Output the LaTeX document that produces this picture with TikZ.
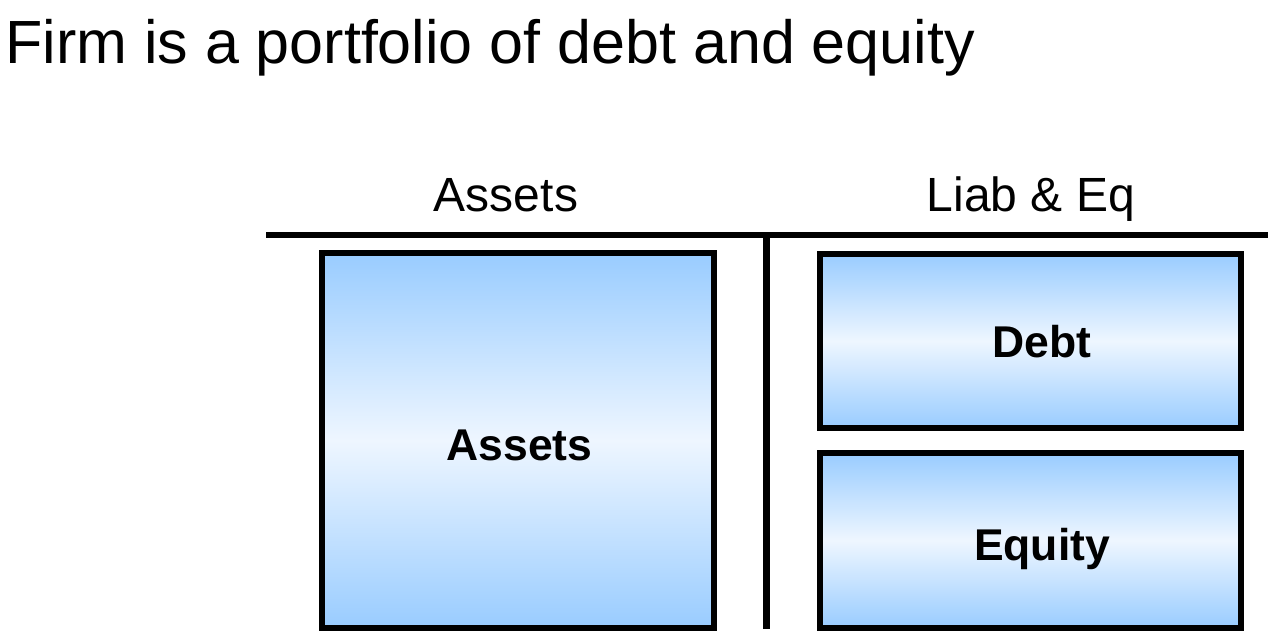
\documentclass[tikz,border=0pt]{standalone}
\usepackage{fontspec}
\setmainfont{Liberation Sans}
\usepackage{xcolor}
\usepackage{tikz}
\definecolor{boxblue}{HTML}{99CCFF}
\definecolor{boxlight}{HTML}{EEF6FF}
\tikzset{
  balance/.style={rectangle,draw,line width=6.5pt,top color=boxblue,bottom color=boxblue,middle color=boxlight},
  boxlabel/.style={anchor=base,inner sep=0pt,font=\bfseries\fontsize{44.5}{54}\selectfont},
  header/.style={anchor=base,inner sep=0pt,font=\fontsize{48}{56}\selectfont}
}
\begin{document}
\begin{tikzpicture}[x=1pt,y=-1pt]
\useasboundingbox (0,0) rectangle (1283,644);
\node (title) at (5,64) [anchor=base west,inner sep=0pt,font=\fontsize{61}{70}\selectfont] {Firm is a portfolio of debt and equity};
\node (hassets) at (506,211.7) [header] {Assets};
\node (hliab) at (1031,211.7) [header] {Liab \& Eq};
\coordinate (ruleL) at (266,235);
\coordinate (ruleR) at (1268,235);
\coordinate (ruleM) at (766.5,235);
\coordinate (ruleB) at (766.5,629);
\draw [line width=6.5pt] (ruleL) -- (ruleR);
\draw [line width=6.5pt] (ruleM) -- (ruleB);
\node (assets) at (518,440.5) [balance,minimum width=392pt,minimum height=375pt] {};
\node (debt) at (1030.5,341) [balance,minimum width=421pt,minimum height=174pt] {};
\node (equity) at (1030.5,540.5) [balance,minimum width=421pt,minimum height=175pt] {};
\node (assetslabel) at (519.5,460) [boxlabel] {Assets};
\node (debtlabel) at (1042,358) [boxlabel] {Debt};
\node (equitylabel) at (1042,560) [boxlabel] {Equity};
\end{tikzpicture}
\end{document}
